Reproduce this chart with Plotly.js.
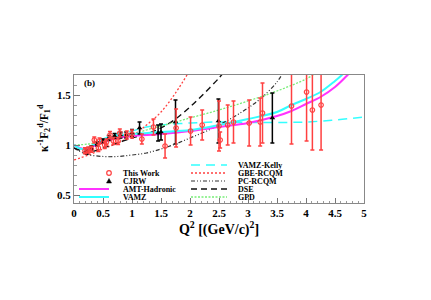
<!DOCTYPE html>
<html>
<head>
<meta charset="utf-8">
<script src="https://cdn.plot.ly/plotly-3.0.1.min.js"></script>
<style>html,body{margin:0;padding:0;background:#fff;}#plot{width:431px;height:300px;}</style>
</head>
<body>
<div id="plot"></div>
<script>
// ---- This Work (red open circles) ----
var twQ2  = [0.19,0.245,0.30,0.35,0.42,0.44,0.53,0.56,0.62,0.68,0.76,0.79,0.91,1.00,1.17,1.37,1.57,1.76,2.01,2.21,2.50,2.52,2.65,2.75,3.02,3.21,3.25,3.75,4.01,4.11,4.26];
var twVal = [0.943,0.95,0.957,1.05,0.97,1.04,1.00,1.03,1.10,1.04,1.04,1.12,1.10,1.11,1.06,1.18,0.99,1.17,1.14,1.20,1.19,1.05,1.20,1.23,1.22,1.23,1.32,1.39,1.53,1.35,1.40];
var twErr = [0.03,0.03,0.03,0.03,0.035,0.03,0.035,0.03,0.035,0.035,0.035,0.04,0.04,0.04,0.05,0.08,0.12,0.19,0.14,0.15,0.25,0.08,0.20,0.21,0.23,0.24,0.30,0.38,0.49,0.40,0.45];
// ---- CJRW (black triangles) ----
var cjQ2  = [0.22,0.30,0.40,0.50,0.60,0.70,0.80,0.90,1.00,1.13,1.45,1.50,1.75,2.49,3.42];
var cjVal = [0.93,0.97,1.01,1.04,1.07,1.09,1.10,1.10,1.12,1.17,1.12,1.13,1.23,1.24,1.27];
var cjErr = [0.02,0.02,0.02,0.02,0.025,0.025,0.03,0.03,0.035,0.06,0.08,0.08,0.22,0.22,0.25];
// ---- Model curves ----
var amtQ2  = [0,0.1,0.2,0.3,0.5,0.75,1.0,1.5,2.0,2.5,3.0,3.5,3.75,4.0,4.25,4.5,4.7,4.8];
var amtVal = [1.0,0.97,0.96,0.98,1.03,1.07,1.09,1.11,1.14,1.18,1.22,1.29,1.34,1.41,1.48,1.58,1.69,1.75];
var vamzQ2  = [0,0.1,0.2,0.3,0.5,0.75,1.0,1.5,2.0,2.5,3.0,3.5,3.75,4.0,4.25,4.5,4.6,4.7];
var vamzVal = [1.0,0.965,0.96,0.99,1.05,1.09,1.11,1.13,1.15,1.20,1.26,1.33,1.40,1.46,1.53,1.64,1.69,1.75];
var kellyQ2  = [0,0.1,0.2,0.3,0.5,0.75,1.0,1.25,1.5,2.0,2.5,3.0,3.5,4.0,4.5,5.0];
var kellyVal = [1.0,0.965,0.96,0.99,1.06,1.11,1.14,1.18,1.20,1.22,1.23,1.225,1.225,1.23,1.25,1.28];
var gbeQ2  = [0,0.25,0.5,0.75,1.0,1.25,1.5,1.75,2.0];
var gbeVal = [0.85,0.90,0.96,1.02,1.09,1.20,1.33,1.52,1.75];
var pcQ2  = [0,0.2,0.5,0.75,1.0,1.25,1.5,1.75,2.0,2.25,2.5,2.75,3.0,3.25,3.5,3.6];
var pcVal = [0.97,0.91,0.885,0.885,0.90,0.92,0.96,1.01,1.07,1.13,1.20,1.28,1.37,1.48,1.63,1.72];
var dseQ2  = [0,0.25,0.5,0.75,1.0,1.25,1.5,1.75,2.0,2.25,2.5,2.6];
var dseVal = [0.97,0.93,0.97,1.02,1.07,1.11,1.17,1.26,1.38,1.52,1.67,1.74];
var gpdQ2  = [0,0.25,0.5,0.75,1.0,1.25,1.5,2.0,2.5,3.0,3.5,4.0,4.2];
var gpdVal = [1.0,1.01,1.04,1.07,1.10,1.15,1.19,1.27,1.35,1.44,1.54,1.66,1.73];
// ---- Legend labels ----
var legCol1 = ["This Work","CJRW","AMT-Hadronic","VAMZ"];
var legCol2 = ["VAMZ-Kelly","GBE-RCQM","PC-RCQM","DSE","GPD"];
var xTickVals = [0,0.5,1,1.5,2,2.5,3,3.5,4,4.5,5];
var xTickText = ["0","0.5","1","1.5","2","2.5","3","3.5","4","4.5","5"];
var yTickVals = [0.5,1,1.5];
var yTickText = ["0.5","1","1.5"];

var SERIF = "Liberation Serif, Times New Roman, serif";
var RED = "#ff4040";
var CYAN = "#33ffff";
var MAG = "#ff33ff";
var GREEN = "#77ee77";

function line(x,y,color,dash,w){return {x:x,y:y,mode:"lines",type:"scatter",line:{color:color,dash:dash,width:w,shape:"spline"},hoverinfo:"skip",showlegend:false};}

var traces = [
  line(kellyQ2,kellyVal,CYAN,"9px,6px",1.5),
  line(gbeQ2,gbeVal,RED,"2px,2px",1.3),
  line(pcQ2,pcVal,"#333","4px,2px,1px,2px,1px,2px",1.2),
  line(dseQ2,dseVal,"#111","6px,4px",1.4),
  line(gpdQ2,gpdVal,GREEN,"2px,1.5px",1.3),
  line(amtQ2,amtVal,MAG,"solid",2),
  line(vamzQ2,vamzVal,CYAN,"solid",2),
  {x:cjQ2,y:cjVal,type:"scatter",mode:"markers",showlegend:false,
   marker:{symbol:"triangle-up",size:5,color:"#000"},
   error_y:{type:"data",array:cjErr,visible:true,color:"#000",thickness:1.5,width:2}},
  {x:twQ2,y:twVal,type:"scatter",mode:"markers",showlegend:false,
   marker:{symbol:"circle-open",size:4.5,color:RED,line:{color:RED,width:1.2}},
   error_y:{type:"data",array:twErr,visible:true,color:RED,thickness:1.5,width:2}}
];

// legend geometry (pixels -> paper)
var L=74,R=364,T=75,B=203;
function px(x){return (x-L)/(R-L);} function py(y){return (B-y)/(B-T);}
var shapes=[], annotations=[];
var col1Y=[173,181,189,197], col2Y=[165,173,181,189,197];
var col1Style=[null,null,{c:MAG,d:"solid",w:2},{c:CYAN,d:"solid",w:2}];
var col2Style=[{c:CYAN,d:"9px,6px",w:1.5},{c:RED,d:"2px,2px",w:1.3},{c:"#333",d:"4px,2px,1px,2px,1px,2px",w:1.2},{c:"#111",d:"6px,4px",w:1.4},{c:GREEN,d:"2px,1.5px",w:1.3}];
legCol1.forEach(function(t,i){
  annotations.push({xref:"paper",yref:"paper",x:px(122),y:py(col1Y[i]),xanchor:"left",yanchor:"middle",borderpad:0,text:t,showarrow:false,font:{family:SERIF,size:8,weight:"bold",color:"#000"}});
  var s=col1Style[i];
  if(s){shapes.push({type:"line",xref:"paper",yref:"paper",x0:px(79),x1:px(109),y0:py(col1Y[i]),y1:py(col1Y[i]),line:{color:s.c,dash:s.d,width:s.w}});}
});
shapes.push({type:"circle",xref:"paper",yref:"paper",xsizemode:"pixel",ysizemode:"pixel",xanchor:px(109),yanchor:py(col1Y[0]),x0:-2.3,x1:2.3,y0:-2.3,y1:2.3,line:{color:RED,width:1.2}});
shapes.push({type:"path",xref:"paper",yref:"paper",xsizemode:"pixel",ysizemode:"pixel",xanchor:px(109),yanchor:py(col1Y[1]),path:"M-2.5,-2 L2.5,-2 L0,2.5 Z",fillcolor:"#000",line:{color:"#000",width:0.5}});
legCol2.forEach(function(t,i){
  annotations.push({xref:"paper",yref:"paper",x:px(237),y:py(col2Y[i]),xanchor:"left",yanchor:"middle",borderpad:0,text:t,showarrow:false,font:{family:SERIF,size:8,weight:"bold",color:"#000"}});
  var s=col2Style[i];
  shapes.push({type:"line",xref:"paper",yref:"paper",x0:px(191),x1:px(227),y0:py(col2Y[i]),y1:py(col2Y[i]),line:{color:s.c,dash:s.d,width:s.w}});
});
annotations.push({xref:"paper",yref:"paper",x:px(82),y:py(83),xanchor:"left",yanchor:"middle",text:"(b)",showarrow:false,font:{family:SERIF,size:9,weight:"bold",color:"#000"}});
annotations.push({xref:"paper",yref:"paper",x:px(44),y:py(128),xanchor:"center",yanchor:"middle",textangle:-90,text:"κ<sup>-1</sup>F<sub>2</sub><sup>d</sup>/F<sub>1</sub><sup>d</sup>",showarrow:false,font:{family:SERIF,size:11.5,weight:"bold",color:"#000"}});

var layout = {
  width:431,height:300,
  margin:{l:74,r:67,t:75,b:97,pad:0},
  paper_bgcolor:"#fff",plot_bgcolor:"#fff",
  showlegend:false,
  xaxis:{range:[0,5],tickvals:xTickVals,ticktext:xTickText,ticks:"inside",ticklen:5,tickcolor:"#777",
    showline:true,linecolor:"#888",linewidth:1,mirror:true,showgrid:false,zeroline:false,
    minor:{dtick:0.1,ticks:"inside",ticklen:2.5,tickcolor:"#999"},
    tickfont:{family:SERIF,size:11,weight:"bold",color:"#000"},
    title:{text:"Q<sup>2</sup> [(GeV/c)<sup>2</sup>]",font:{family:SERIF,size:14,weight:"bold",color:"#000"},standoff:4}},
  yaxis:{range:[0.42,1.7],tickvals:yTickVals,ticktext:yTickText,ticks:"inside",ticklen:6,tickcolor:"#777",
    showline:true,linecolor:"#888",linewidth:1,mirror:true,showgrid:false,zeroline:false,
    minor:{dtick:0.1,ticks:"inside",ticklen:3,tickcolor:"#999"},
    tickfont:{family:SERIF,size:11,weight:"bold",color:"#000"}},
  shapes:shapes,annotations:annotations
};
Plotly.newPlot("plot",traces,layout,{staticPlot:true,displayModeBar:false});
</script>
</body>
</html>
